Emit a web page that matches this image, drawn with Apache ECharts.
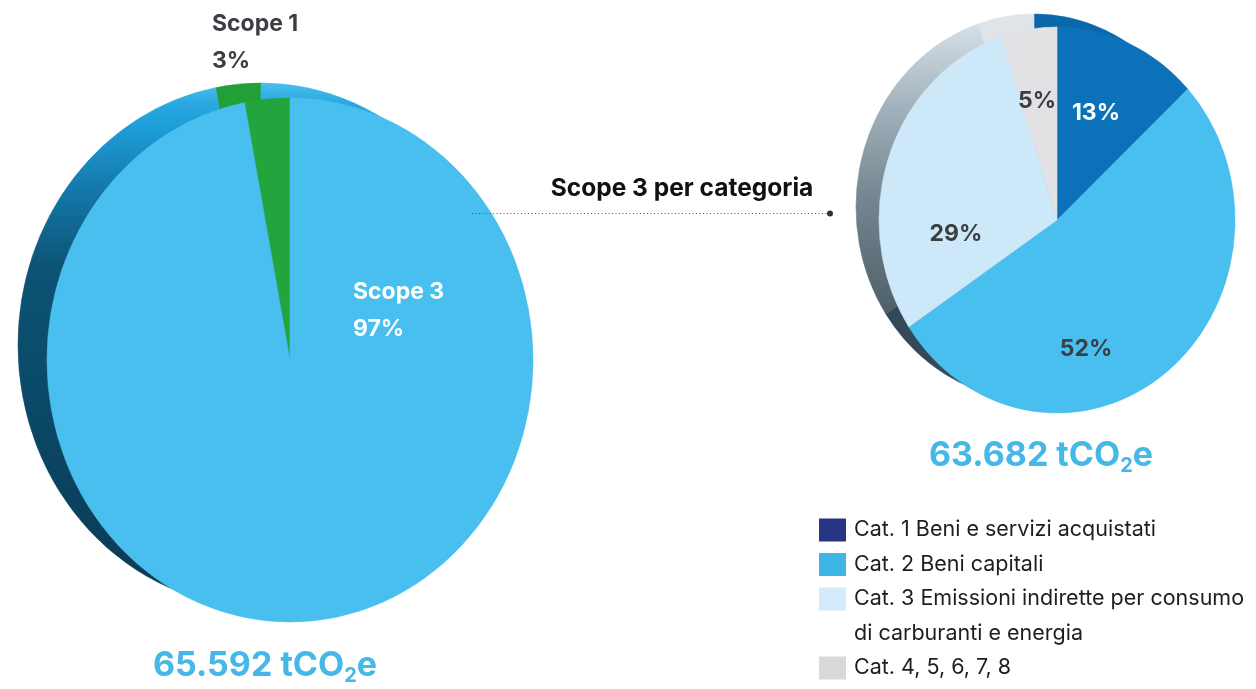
<!DOCTYPE html>
<html>
<head>
<meta charset="utf-8">
<script src="https://cdn.jsdelivr.net/npm/echarts@6/dist/echarts.min.js"></script>
<style>
  html, body { margin: 0; padding: 0; background: #ffffff; }
  #chart { width: 1256px; height: 689px; }
</style>
</head>
<body>
<div id="chart"></div>
<script>
// Emissions by scope (share of total, %)
const scopeNames = ['Scope 1', 'Scope 3'];
const scopeShares = [3, 97];
const scopeTotal = '65.592';

// Scope 3 emissions by category (share, %)
const categoryNames = [
  'Cat. 1 Beni e servizi acquistati',
  'Cat. 2 Beni capitali',
  'Cat. 3 Emissioni indirette per consumo\ndi carburanti e energia',
  'Cat. 4, 5, 6, 7, 8'
];
const categoryShares = [13, 52, 29, 5];
const categoryTotal = '63.682';
const categoryTitle = 'Scope 3 per categoria';

const FONT = 'Inter, "Noto Sans", sans-serif';
const TEXT_DARK = '#3b3f44';
const TOTAL_BLUE = '#45b8e8';

const grad = (x2, y2, stops) => new echarts.graphic.LinearGradient(0, 0, x2, y2,
  stops.map(([offset, color]) => ({ offset, color })));

// Elliptical pie layer: one sector per value, angles from the running share
function pieLayer(name, values, o) {
  const total = values.reduce((a, b) => a + b, 0);
  const starts = [];
  let acc = 0;
  values.forEach(v => { starts.push(acc); acc += v; });
  return {
    type: 'custom',
    name: name,
    coordinateSystem: 'none',
    silent: true,
    z: o.z,
    data: values.map((v, i) => ({ value: v, name: o.names[i] })),
    renderItem(params, api) {
      const i = params.dataIndex;
      const v = api.value(0);
      const dir = o.clockwise ? 1 : -1;
      const a0 = -Math.PI / 2 + dir * 2 * Math.PI * starts[i] / total;
      const a1 = -Math.PI / 2 + dir * 2 * Math.PI * (starts[i] + v) / total;
      return {
        type: 'sector',
        x: o.cx,
        y: o.cy,
        scaleX: o.rx / o.ry,
        shape: {
          cx: 0, cy: 0, r0: 0, r: o.ry,
          startAngle: Math.min(a0, a1),
          endAngle: Math.max(a0, a1),
          clockwise: true
        },
        style: { fill: o.colors[i], stroke: o.colors[i], lineWidth: 0.6 }
      };
    }
  };
}

// Left pie: scopes (Scope 1 runs counter-clockwise from 12 o'clock)
const scopeFace = ['#24a43c', '#48bfee'];
const scopeSide = [
  '#22a038',
  grad(0, 1, [[0, '#48bfee'], [0.04, '#2aa8e0'], [0.08, '#1e9fd9'], [0.2, '#1479ad'], [0.35, '#0c5475'], [0.7, '#0a4562'], [1, '#0b3a52']])
];
// Right pie: Scope 3 categories (clockwise from 12 o'clock)
const catFace = ['#0b72ba', '#48bfee', '#cde8f8', '#e2e2e4'];
const catSide = [
  '#0a68aa',
  '#33495a',
  grad(0, 1, [[0, '#d6e0e7'], [0.3, '#a0b0ba'], [0.6, '#74868f'], [1, '#4e5f6a']]),
  '#dfe4e8'
];
const legendColors = ['#283583', '#3fb5e6', '#d3ebfa', '#d9d9d9'];

// Face ellipse and the offset of the extruded back face
const L = { cx: 290, cy: 360, rx: 243, ry: 262, dx: -29, dy: -15 };
const R = { cx: 1057, cy: 220, rx: 178, ry: 193, dx: -23, dy: -13 };

const series = [
  pieLayer('scope-side', scopeShares, { cx: L.cx + L.dx, cy: L.cy + L.dy, rx: L.rx, ry: L.ry, clockwise: false, colors: scopeSide, names: scopeNames, z: 1 }),
  pieLayer('scope-face', scopeShares, { cx: L.cx, cy: L.cy, rx: L.rx, ry: L.ry, clockwise: false, colors: scopeFace, names: scopeNames, z: 2 }),
  pieLayer('cat-side', categoryShares, { cx: R.cx + R.dx, cy: R.cy + R.dy, rx: R.rx, ry: R.ry, clockwise: true, colors: catSide, names: categoryNames, z: 1 }),
  pieLayer('cat-face', categoryShares, { cx: R.cx, cy: R.cy, rx: R.rx, ry: R.ry, clockwise: true, colors: catFace, names: categoryNames, z: 2 })
];

const pct = v => v + '%';
const bold = (size, color) => ({ fontFamily: FONT, fontWeight: 'bold', fontSize: size, fill: color });

const graphics = [];

// Scope labels
graphics.push({
  type: 'text', left: 212, top: 6, z: 10,
  style: Object.assign(bold(23, TEXT_DARK), { text: scopeNames[0] + '\n' + pct(scopeShares[0]), lineHeight: 37 })
});
graphics.push({
  type: 'text', left: 353, top: 274, z: 10,
  style: Object.assign(bold(23, '#ffffff'), { text: scopeNames[1] + '\n' + pct(scopeShares[1]), lineHeight: 37 })
});

// Category labels
const catLabelPos = [[1096, 113], [1086, 349], [956, 234], [1037, 101]];
const catLabelColor = ['#ffffff', TEXT_DARK, TEXT_DARK, TEXT_DARK];
categoryShares.forEach((v, i) => {
  graphics.push({
    type: 'text', x: catLabelPos[i][0], y: catLabelPos[i][1], z: 10,
    style: Object.assign(bold(23, catLabelColor[i]), { text: pct(v), textAlign: 'center', textVerticalAlign: 'middle' })
  });
});

// Totals in tCO2e
function totalText(value, x, y) {
  return {
    type: 'text', x: x, y: y, z: 10,
    style: {
      text: '{m|' + value + ' tCO}{s|2}{m|e}',
      textAlign: 'center',
      textVerticalAlign: 'middle',
      rich: {
        m: { fontFamily: FONT, fontWeight: 'bold', fontSize: 34, fill: TOTAL_BLUE, lineHeight: 40 },
        s: { fontFamily: FONT, fontWeight: 'bold', fontSize: 20, fill: TOTAL_BLUE, lineHeight: 12, verticalAlign: 'bottom' }
      }
    }
  };
}
graphics.push(totalText(scopeTotal, 265, 666));
graphics.push(totalText(categoryTotal, 1041, 456));

// Connector from the Scope 3 slice to the category breakdown
graphics.push({
  type: 'text', x: 682, y: 189, z: 10,
  style: Object.assign(bold(24.5, '#111111'), { text: categoryTitle, textAlign: 'center', textVerticalAlign: 'middle' })
});
graphics.push({
  type: 'line', z: 10,
  shape: { x1: 472, y1: 213.5, x2: 828, y2: 213.5 },
  style: { stroke: '#555555', lineWidth: 1, lineDash: [1, 2.5] }
});
graphics.push({
  type: 'circle', z: 10,
  shape: { cx: 830, cy: 213.5, r: 3 },
  style: { fill: '#333333' }
});

// Category legend
let rowY = 530;
categoryNames.forEach((name, i) => {
  graphics.push({
    type: 'rect', z: 10,
    shape: { x: 819, y: rowY - 11.5, width: 27, height: 23 },
    style: { fill: legendColors[i] }
  });
  graphics.push({
    type: 'text', x: 854, y: rowY - 17.25, z: 10,
    style: { text: name, fontFamily: FONT, fontSize: 21.5, fill: '#1e1e1e', lineHeight: 34.5, textVerticalAlign: 'top' }
  });
  rowY += 34.5 * name.split('\n').length;
});

const chart = echarts.init(document.getElementById('chart'), null, { renderer: 'canvas' });
chart.setOption({
  backgroundColor: '#ffffff',
  animation: false,
  series: series,
  graphic: graphics
});
</script>
</body>
</html>
